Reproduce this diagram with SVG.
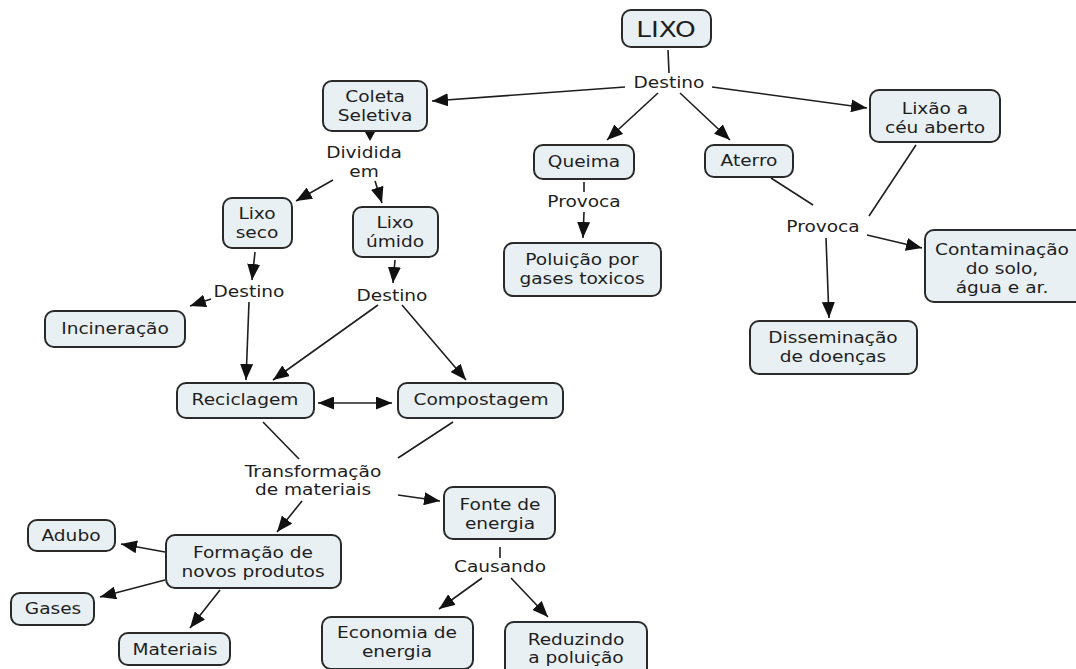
<svg xmlns="http://www.w3.org/2000/svg" width="1076" height="669" viewBox="0 0 1076 669">
<defs>
<marker id="ah" markerUnits="userSpaceOnUse" markerWidth="16" markerHeight="13" refX="16" refY="6.5" orient="auto-start-reverse" viewBox="0 0 16 13">
<path d="M0,0 L16,6.5 L0,13 z" fill="#111"/>
</marker>
<style>
.box{fill:#e9f0f4;stroke:#2a2a2a;stroke-width:2}
text{font-family:"DejaVu Sans","Liberation Sans",sans-serif;font-size:16px;fill:#1e1e1e;text-anchor:middle}
.big{font-size:22px}
.c{fill:none;stroke:#1e1e1e;stroke-width:1.6}
.a{marker-end:url(#ah)}
.d{marker-start:url(#ah);marker-end:url(#ah)}
</style>
</defs>
<rect width="1076" height="669" fill="#ffffff"/>
<g id="connectors">
<path class="c" d="M668,50 L669,73"/>
<path class="c a" d="M625,87 L432,101"/>
<path class="c a" d="M658,93 L607,140"/>
<path class="c a" d="M680,93 L730,140"/>
<path class="c a" d="M712,87 L867,108"/>
<path d="M365,132 L375,132 L370,141 z" fill="#111"/>
<path class="c a" d="M333,180 L296,201"/>
<path class="c a" d="M375,181 L382,203"/>
<path class="c a" d="M255,252 L252,280"/>
<path class="c a" d="M395,260 L393,283"/>
<path class="c a" d="M211,299 L190,306"/>
<path class="c a" d="M249,302 L246,380"/>
<path class="c a" d="M378,305 L273,380"/>
<path class="c a" d="M402,305 L466,380"/>
<path class="c d" d="M318,403 L392,403"/>
<path class="c" d="M263,422 L299,459"/>
<path class="c" d="M453,422 L398,458"/>
<path class="c a" d="M302,501 L277,532"/>
<path class="c a" d="M398,495 L440,501"/>
<path class="c" d="M500,547 L500,558"/>
<path class="c a" d="M482,578 L439,609"/>
<path class="c a" d="M511,578 L548,617"/>
<path class="c a" d="M165,552 L121,544"/>
<path class="c a" d="M165,580 L100,597"/>
<path class="c a" d="M220,590 L190,628"/>
<path class="c" d="M584,182 L584,192"/>
<path class="c a" d="M584,212 L583,238"/>
<path class="c" d="M771,178 L813,205"/>
<path class="c" d="M916,145 L869,216"/>
<path class="c a" d="M867,235 L922,248"/>
<path class="c a" d="M826,238 L829,318"/>
</g>
<g id="labels">
<text id="l-destino1" transform="matrix(1.16 0 0 1 669 88)">Destino</text>
<text id="l-dividida" transform="matrix(1.16 0 0 1 364 158)"><tspan x="0" y="0">Dividida</tspan><tspan x="0" y="19">em</tspan></text>
<text id="l-provoca1" transform="matrix(1.16 0 0 1 584 207)">Provoca</text>
<text id="l-provoca2" transform="matrix(1.16 0 0 1 823 232)">Provoca</text>
<text id="l-destino2" transform="matrix(1.16 0 0 1 249 297)">Destino</text>
<text id="l-destino3" transform="matrix(1.16 0 0 1 392 301)">Destino</text>
<text id="l-transf" transform="matrix(1.16 0 0 1 313 477)"><tspan x="0" y="0">Transformação</tspan><tspan x="0" y="18">de materiais</tspan></text>
<text id="l-causando" transform="matrix(1.16 0 0 1 500 572)">Causando</text>
</g>
<g id="n-lixo"><rect class="box" x="622" y="10" width="89" height="37" rx="9"/><text class="big" transform="matrix(1.2 0 0 1 666 37)">LIXO</text></g>
<g id="n-coleta"><rect class="box" x="323" y="81" width="104" height="50" rx="9"/><text transform="matrix(1.16 0 0 1 375 102)"><tspan x="0" y="0">Coleta</tspan><tspan x="0" y="19">Seletiva</tspan></text></g>
<g id="n-queima"><rect class="box" x="534" y="145" width="100" height="34" rx="9"/><text transform="matrix(1.16 0 0 1 584 167)">Queima</text></g>
<g id="n-aterro"><rect class="box" x="705" y="145" width="88" height="32" rx="9"/><text transform="matrix(1.16 0 0 1 749 166)">Aterro</text></g>
<g id="n-lixao"><rect class="box" x="870" y="90" width="130" height="52" rx="9"/><text transform="matrix(1.16 0 0 1 935 114)"><tspan x="0" y="0">Lixão a</tspan><tspan x="0" y="19">céu aberto</tspan></text></g>
<g id="n-lixoseco"><rect class="box" x="223" y="198" width="69" height="50" rx="9"/><text transform="matrix(1.16 0 0 1 257 219)"><tspan x="0" y="0">Lixo</tspan><tspan x="0" y="19">seco</tspan></text></g>
<g id="n-lixoumido"><rect class="box" x="353" y="207" width="85" height="50" rx="9"/><text transform="matrix(1.16 0 0 1 395 228)"><tspan x="0" y="0">Lixo</tspan><tspan x="0" y="19">úmido</tspan></text></g>
<g id="n-incineracao"><rect class="box" x="45" y="311" width="140" height="36" rx="9"/><text transform="matrix(1.16 0 0 1 115 334)">Incineração</text></g>
<g id="n-poluicao"><rect class="box" x="504" y="243" width="157" height="53" rx="9"/><text transform="matrix(1.16 0 0 1 582 265)"><tspan x="0" y="0">Poluição por</tspan><tspan x="0" y="19">gases toxicos</tspan></text></g>
<g id="n-contaminacao"><rect class="box" x="925" y="230" width="160" height="72" rx="9"/><text transform="matrix(1.16 0 0 1 1002 255)"><tspan x="0" y="0">Contaminação</tspan><tspan x="0" y="19">do solo,</tspan><tspan x="0" y="38">água e ar.</tspan></text></g>
<g id="n-disseminacao"><rect class="box" x="750" y="321" width="167" height="53" rx="9"/><text transform="matrix(1.16 0 0 1 833 343)"><tspan x="0" y="0">Disseminação</tspan><tspan x="0" y="19">de doenças</tspan></text></g>
<g id="n-reciclagem"><rect class="box" x="177" y="383" width="137" height="35" rx="9"/><text transform="matrix(1.16 0 0 1 245 405)">Reciclagem</text></g>
<g id="n-compostagem"><rect class="box" x="398" y="383" width="165" height="35" rx="9"/><text transform="matrix(1.16 0 0 1 481 405)">Compostagem</text></g>
<g id="n-fonte"><rect class="box" x="444" y="487" width="111" height="52" rx="9"/><text transform="matrix(1.16 0 0 1 500 510)"><tspan x="0" y="0">Fonte de</tspan><tspan x="0" y="19">energia</tspan></text></g>
<g id="n-formacao"><rect class="box" x="166" y="535" width="175" height="53" rx="9"/><text transform="matrix(1.16 0 0 1 253 558)"><tspan x="0" y="0">Formação de</tspan><tspan x="0" y="19">novos produtos</tspan></text></g>
<g id="n-adubo"><rect class="box" x="28" y="520" width="87" height="31" rx="9"/><text transform="matrix(1.16 0 0 1 71 541)">Adubo</text></g>
<g id="n-gases"><rect class="box" x="11" y="593" width="83" height="32" rx="9"/><text transform="matrix(1.16 0 0 1 53 614)">Gases</text></g>
<g id="n-materiais"><rect class="box" x="119" y="633" width="111" height="32" rx="9"/><text transform="matrix(1.16 0 0 1 175 655)">Materiais</text></g>
<g id="n-economia"><rect class="box" x="322" y="617" width="151" height="52" rx="9"/><text transform="matrix(1.16 0 0 1 397 638)"><tspan x="0" y="0">Economia de</tspan><tspan x="0" y="19">energia</tspan></text></g>
<g id="n-reduzindo"><rect class="box" x="505" y="622" width="142" height="55" rx="9"/><text transform="matrix(1.16 0 0 1 576 645)"><tspan x="0" y="0">Reduzindo</tspan><tspan x="0" y="18">a poluição</tspan></text></g>
</svg>
